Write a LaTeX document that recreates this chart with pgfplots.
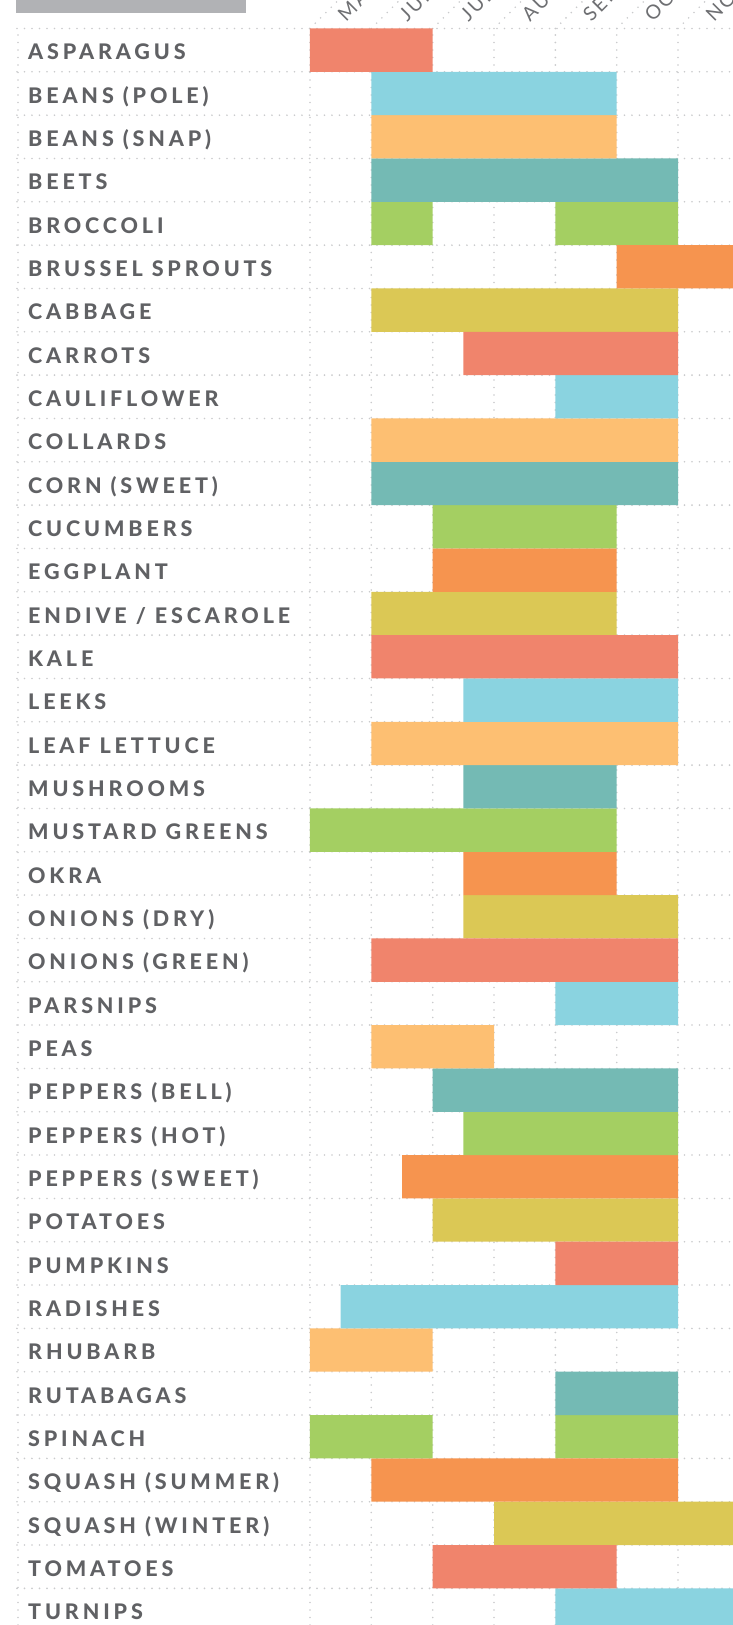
\documentclass[border=0pt]{standalone}
\usepackage{fontspec}
\setmainfont{Lato}
\usepackage{pgfplots}
\usepackage{pgfplotstable}
\pgfplotsset{compat=1.18}
\definecolor{c1}{HTML}{F0846C}
\definecolor{c2}{HTML}{8AD3E0}
\definecolor{c3}{HTML}{FDBF72}
\definecolor{c4}{HTML}{74BAB4}
\definecolor{c5}{HTML}{A4CF62}
\definecolor{c6}{HTML}{F6944F}
\definecolor{c7}{HTML}{DBC855}
\definecolor{gridc}{HTML}{CACBCD}
\definecolor{labc}{HTML}{606164}
\definecolor{monc}{HTML}{6E6F72}
\definecolor{barc}{HTML}{B1B2B5}
\IfFontExistsTF{Lato Heavy}
  {\newfontfamily\labfont[LetterSpace=18]{Lato Heavy}\newcommand\labweight{}}
  {\newfontfamily\labfont[LetterSpace=21]{Lato}\newcommand\labweight{\bfseries}}
\newfontfamily\monfont[LetterSpace=12]{Lato}
\tikzset{dots/.style={draw=gridc, line width=1.8pt, line cap=round, dash pattern=on 0pt off 7.5pt}}
% row (0 = top, negative downwards), offset, length, colour index, gap, second length
\pgfplotstableread{
row off len col gap len2
0 0 2 1 0 0
-1 1 4 2 0 0
-2 1 4 3 0 0
-3 1 5 4 0 0
-4 1 1 5 2 2
-5 5 2 6 0 0
-6 1 5 7 0 0
-7 2.5 3.5 1 0 0
-8 4 2 2 0 0
-9 1 5 3 0 0
-10 1 5 4 0 0
-11 2 3 5 0 0
-12 2 3 6 0 0
-13 1 4 7 0 0
-14 1 5 1 0 0
-15 2.5 3.5 2 0 0
-16 1 5 3 0 0
-17 2.5 2.5 4 0 0
-18 0 5 5 0 0
-19 2.5 2.5 6 0 0
-20 2.5 3.5 7 0 0
-21 1 5 1 0 0
-22 4 2 2 0 0
-23 1 2 3 0 0
-24 2 4 4 0 0
-25 2.5 3.5 5 0 0
-26 1.5 4.5 6 0 0
-27 2 4 7 0 0
-28 4 2 1 0 0
-29 0.5 5.5 2 0 0
-30 0 2 3 0 0
-31 4 2 4 0 0
-32 0 2 5 2 2
-33 1 5 6 0 0
-34 3 4 7 0 0
-35 2 3 1 0 0
-36 4 3 2 0 0
}\veg
\begin{document}
\begin{tikzpicture}
\begin{axis}[
  xbar stacked, bar width=1,
  scale only axis, width=716pt, height=1596.5pt,
  xmin=-4.776, xmax=6.895, ymin=-36.345, ymax=0.5,
  axis line style={draw=none},
  xtick={0.52,1.52,2.52,3.52,4.52,5.52,6.52},
  xticklabels={MAY,JUN,JUL,AUG,SEP,OCT,NOV},
  xticklabel pos=upper,
  minor xtick={-4.76,0,1,2,3,4,5,6},
  xminorgrids=true,
  ytick={-36,-35,...,0},
  yticklabels={TURNIPS,TOMATOES,SQUASH (WINTER),SQUASH (SUMMER),SPINACH,RUTABAGAS,RHUBARB,RADISHES,PUMPKINS,POTATOES,PEPPERS (SWEET),PEPPERS (HOT),PEPPERS (BELL),PEAS,PARSNIPS,ONIONS (GREEN),ONIONS (DRY),OKRA,MUSTARD GREENS,MUSHROOMS,LEAF LETTUCE,LEEKS,KALE,ENDIVE / ESCAROLE,EGGPLANT,CUCUMBERS,CORN (SWEET),COLLARDS,CAULIFLOWER,CARROTS,CABBAGE,BRUSSEL SPROUTS,BROCCOLI,BEETS,BEANS (SNAP),BEANS (POLE),ASPARAGUS},
  minor ytick={-36.5,-35.5,...,0.5},
  yminorgrids=true,
  minor grid style={dots},
  major tick length=0pt, minor tick length=0pt,
  yticklabel style={anchor=base west, inner sep=0pt, xshift=11pt, yshift=-9.8pt,
    font=\labfont\labweight\fontsize{21.5}{21.5}\selectfont, text=labc},
  xticklabel style={anchor=base west, inner sep=0pt, xshift=4pt, yshift=6pt, rotate=45,
    font=\monfont\fontsize{19.5}{19.5}\selectfont, text=monc},
  clip mode=individual,
]
\addplot[draw=none, fill=none] table[x=off, y=row]{\veg};
\pgfplotsinvokeforeach{1,...,7}{
  \addplot[draw=none, fill=c#1] table[x expr={\thisrow{col}==#1 ? \thisrow{len} : 0}, y=row]{\veg};
}
\addplot[draw=none, fill=none] table[x=gap, y=row]{\veg};
\addplot[draw=none, fill=c5] table[x=len2, y=row]{\veg};
\pgfplotsinvokeforeach{0,...,6}{\draw[dots] (axis cs:#1,0.5) -- ++(32pt,32pt);}
\fill[barc] (axis cs:-4.792,2) rectangle (axis cs:-1.043,0.865);
\coordinate (bbSW) at (axis cs:-5.053,-36.345);
\coordinate (bbNE) at (axis cs:6.895,1.158);
\end{axis}
\pgfresetboundingbox
\path (bbSW) rectangle (bbNE);
\end{tikzpicture}
\end{document}
